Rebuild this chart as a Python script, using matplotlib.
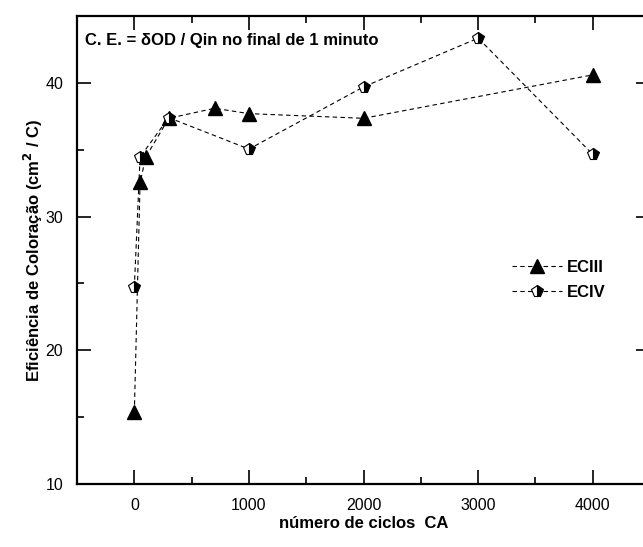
import matplotlib
matplotlib.use("Agg")
import matplotlib.pyplot as plt
from matplotlib.ticker import MultipleLocator

# Coloration efficiency vs number of CV cycles
ciclos_eciii = [0, 50, 100, 300, 700, 1000, 2000, 4000]
ce_eciii = [15.35, 32.55, 34.45, 37.35, 38.1, 37.7, 37.35, 40.6]

ciclos_eciv = [0, 50, 300, 1000, 2000, 3000, 4000]
ce_eciv = [24.7, 34.45, 37.4, 35.05, 39.7, 43.35, 34.65]

plt.rcParams['font.family'] = ['Liberation Sans', 'DejaVu Sans']

fig = plt.figure(figsize=(6.43, 5.47), dpi=100)
ax = fig.add_axes([0.1198, 0.1152, 0.8912, 0.8555])

line_style = dict(color='black', linewidth=0.8, linestyle=(0, (4, 3)))

ax.plot(ciclos_eciii, ce_eciii, marker='^', markersize=9.5,
        markerfacecolor='black', markeredgecolor='black',
        label='ECIII', **line_style)
ax.plot(ciclos_eciv, ce_eciv, marker='p', markersize=8.5, fillstyle='right',
        markerfacecolor='black', markerfacecoloralt='white',
        markeredgecolor='black', markeredgewidth=0.8,
        label='ECIV', **line_style)

ax.set_xlim(-500, 4500)
ax.set_ylim(10, 45)
ax.xaxis.set_major_locator(MultipleLocator(1000))
ax.xaxis.set_minor_locator(MultipleLocator(500))
ax.yaxis.set_major_locator(MultipleLocator(10))
ax.yaxis.set_minor_locator(MultipleLocator(5))

ax.tick_params(which='both', direction='in', top=True, right=True,
               labelsize=11.5, width=1.2, pad=10)
ax.tick_params(which='major', length=10)
ax.tick_params(which='minor', length=5)
for s in ax.spines.values():
    s.set_linewidth(1.6)

ax.set_xlabel('número de ciclos  CA', fontsize=12, fontweight='bold', labelpad=2)
ax.set_ylabel('Eficiência de Coloração (cm$^\\mathbf{2}$ / C)', fontsize=12,
              fontweight='bold', labelpad=0)

ax.text(0.0138, 0.964, 'C. E. = δOD / Qin no final de 1 minuto',
        transform=ax.transAxes, fontsize=12, fontweight='bold',
        ha='left', va='top')

leg = ax.legend(loc='upper left', bbox_to_anchor=(0.733, 0.51), frameon=False,
                prop=dict(size=12, weight='bold'), handlelength=3.0,
                handletextpad=0.3, labelspacing=0.6)

fig.savefig('out.png', dpi=100)
